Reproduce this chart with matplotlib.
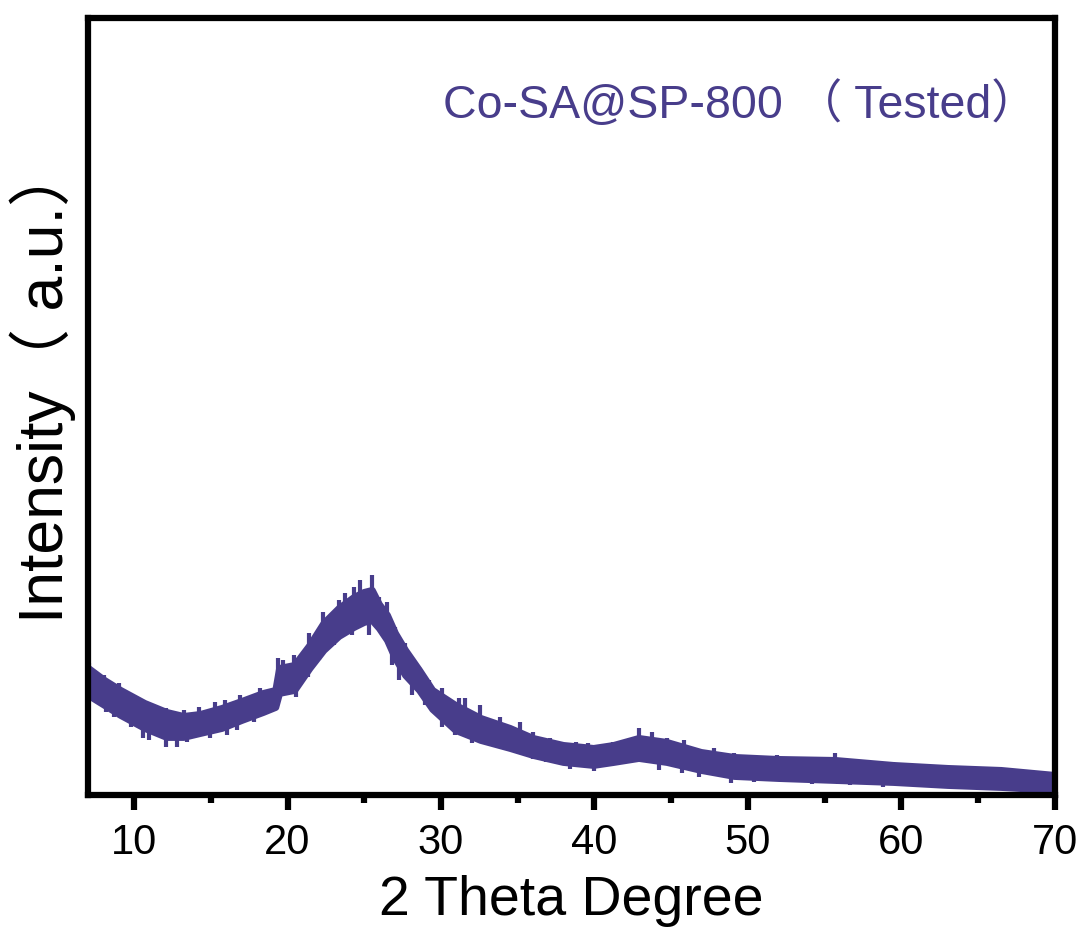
import numpy as np
import matplotlib
matplotlib.use('Agg')
import matplotlib.pyplot as plt
from matplotlib.ticker import MultipleLocator

plt.rcParams['font.family'] = ['Liberation Sans', 'Noto Sans CJK SC', 'DejaVu Sans']

# core of the noisy XRD trace (a.u.)
two_theta = [7.0, 8.05, 9.1, 10.67, 12.1, 13.2, 14.3, 15.7, 17.0, 18.4, 19.2, 19.45,
             20.44, 21.43, 22.34, 23.33, 24.31, 24.97, 25.49, 25.95, 26.48, 27.0,
             27.66, 28.57, 29.43, 30.93, 32.57, 34.48, 35.98, 37.95, 39.92, 41.23,
             42.87, 44.70, 46.93, 49.10, 51.92, 55.66, 59.46, 63.0, 66.48, 70.0]
core_top = [127, 115, 105, 92, 83, 79, 81, 87, 94, 102, 105, 127,
            130, 150, 172, 187, 198, 203, 205, 191, 180, 162,
            145, 125, 105, 90, 77, 67, 57, 50, 47, 50,
            57, 53, 43, 38, 36, 35, 30, 27, 25, 20]
core_bottom = [100, 90, 80, 67, 58, 58, 62, 67, 75, 83, 88, 102,
               105, 127, 145, 159, 168, 173, 175, 167, 155, 137,
               120, 105, 86, 65, 55, 47, 40, 33, 30, 33,
               37, 33, 25, 19, 17, 15, 13, 10, 8, 5]

# noise spikes above / below the core
up_x = [7.07, 8.05, 9.03, 9.62, 10.67, 11.59, 12.11, 13.23, 14.21, 15.26, 15.92, 16.90, 18.21,
        19.39, 19.72, 20.44, 21.43, 22.34, 23.33, 23.72, 24.31, 24.70, 25.49, 25.95, 26.48,
        27.00, 27.66, 28.57, 29.23, 30.08, 31.20, 31.59, 32.57, 33.82, 35.13, 35.98, 37.10,
        38.80, 39.59, 41.23, 42.34, 42.87, 43.72, 44.70, 45.82, 46.93, 47.79, 49.10, 50.61,
        51.92, 53.69, 55.66, 56.97, 59.46, 61.23, 63.0, 64.70, 66.48, 68.25, 69.95]
up_y = [132, 120, 112, 103, 93, 85, 87, 85, 88, 93, 95, 100, 107,
        137, 135, 140, 162, 183, 195, 202, 208, 215, 220, 198, 193,
        168, 152, 128, 115, 107, 97, 97, 90, 78, 73, 63, 57,
        53, 52, 53, 57, 67, 63, 57, 55, 45, 47, 42, 38,
        40, 38, 42, 33, 33, 30, 28, 28, 27, 25, 22]
dn_x = [8.18, 8.70, 9.82, 10.61, 11.00, 12.11, 12.77, 13.43, 14.08, 14.93, 16.05, 16.70, 17.82,
        20.57, 21.36, 22.08, 23.00, 23.52, 24.18, 25.30, 26.80, 27.26, 28.11, 28.97,
        30.08, 30.93, 32.05, 33.49, 34.48, 35.98, 36.84, 38.4, 40.0, 41.1, 42.34, 44.18,
        45.69, 46.80, 48.90, 50.41, 52.18, 54.15, 55.85, 56.64, 58.80, 61.23, 63.85, 66.93, 69.56]
dn_y = [83, 78, 68, 57, 55, 48, 48, 53, 58, 57, 60, 65, 73,
        98, 118, 135, 150, 158, 160, 160, 130, 115, 100, 90,
        68, 60, 52, 50, 45, 36, 33, 26, 24, 29, 33, 25,
        22, 18, 12, 13, 13, 11, 11, 10, 8, 8, 6, 4, 2]

color = '#483D8B'

fig = plt.figure(figsize=(10.83, 9.38), dpi=100)
ax = fig.add_axes([0.0813, 0.1525, 0.8927, 0.8285])

ax.fill_between(two_theta, core_bottom, core_top, color=color, linewidth=5,
                edgecolor=color, joinstyle='round')
mid = (np.array(core_top) + np.array(core_bottom)) / 2
ax.vlines(up_x, np.interp(up_x, two_theta, mid), up_y, color=color, linewidth=3)
ax.vlines(dn_x, dn_y, np.interp(dn_x, two_theta, mid), color=color, linewidth=3)

ax.set_xlim(7, 70)
ax.set_ylim(0, 777)

ax.xaxis.set_major_locator(MultipleLocator(10))
ax.xaxis.set_minor_locator(MultipleLocator(5))
ax.tick_params(axis='x', which='major', direction='out', length=11, width=4.5,
               labelsize=30, pad=9)
ax.tick_params(axis='x', which='minor', direction='out', length=6, width=4.5)
ax.set_yticks([])
for s in ax.spines.values():
    s.set_linewidth(4.5)

ax.set_xlabel('2 Theta Degree', fontsize=40, labelpad=9)
ax.set_ylabel('Intensity（ a.u.）', fontsize=45)
ax.yaxis.set_label_coords(-0.012, 0.53)

ax.text(0.367, 0.888, 'Co-SA@SP-800 （ Tested）', transform=ax.transAxes,
        fontsize=33.5, color=color, ha='left', va='center')

fig.savefig('out.png', dpi=100)
